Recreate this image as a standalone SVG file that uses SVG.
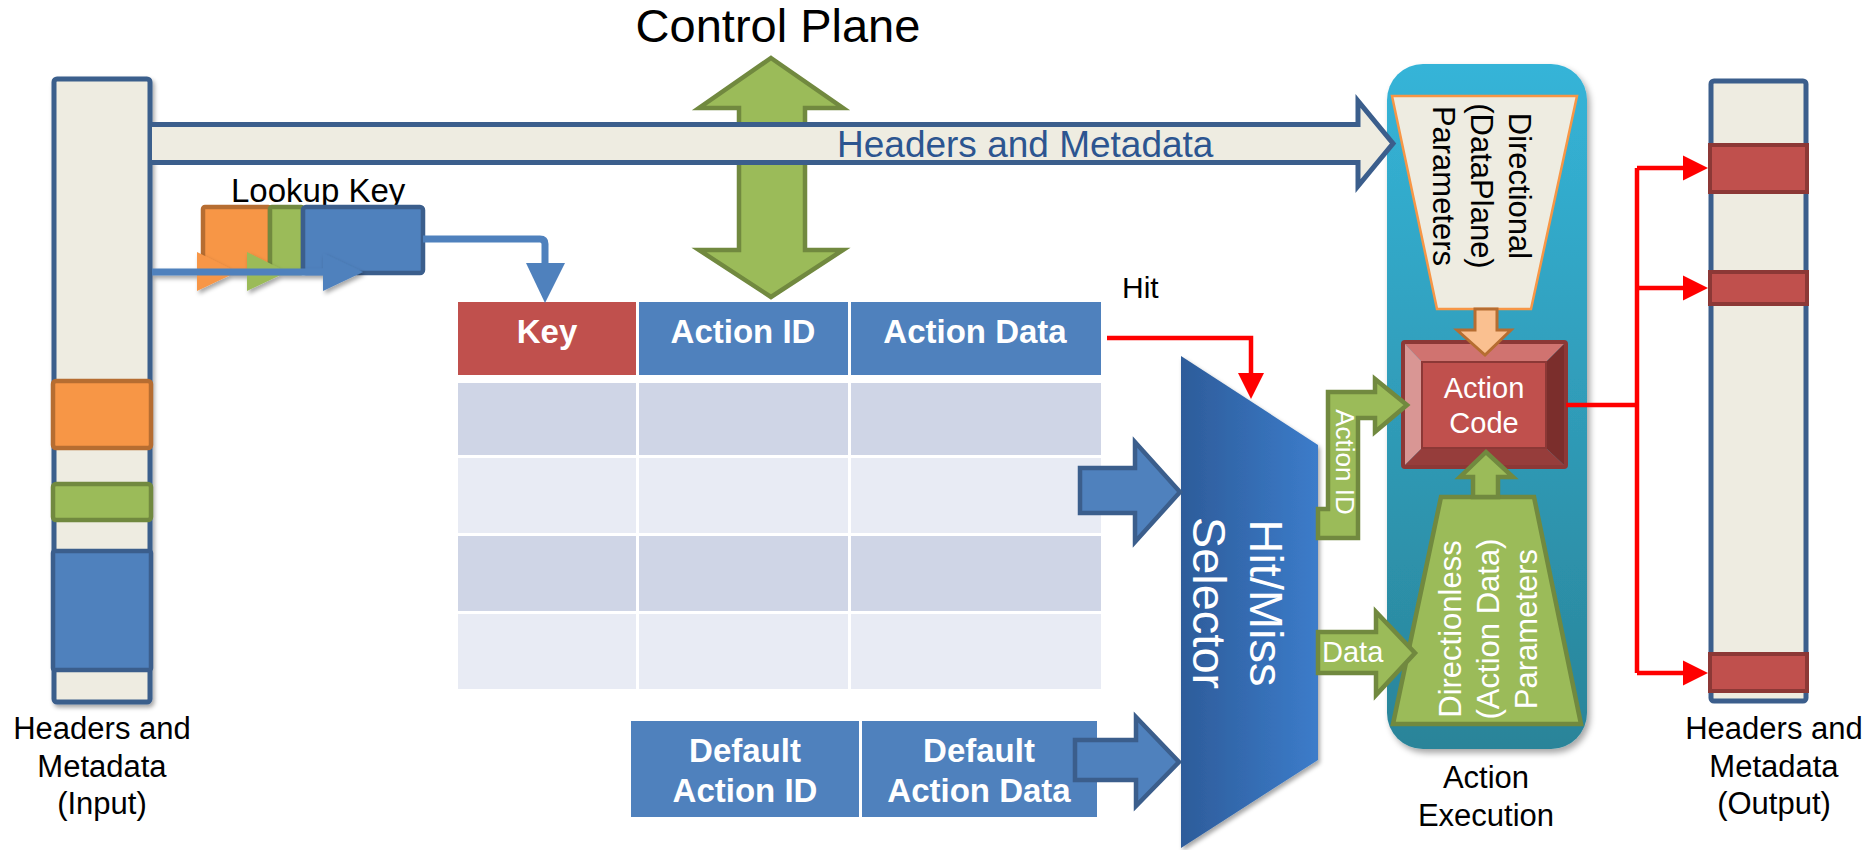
<svg xmlns="http://www.w3.org/2000/svg" width="1871" height="850" viewBox="0 0 1871 850">
<defs>
<style>
text{font-family:"Liberation Sans",Arial,sans-serif}
.lbl{font-size:31px;fill:#000}
.hdr{font-size:33px;font-weight:bold;fill:#fff}
.wt{fill:#fff}
.bs{stroke:#3B5E8C;stroke-width:5}
.cream{fill:#EEECE1}
.blue{fill:#4F81BD}
.grn{fill:#9BBB59;stroke:#71893F;stroke-width:4.5;stroke-linejoin:miter}
.red{fill:#C0504D;stroke:#8C3836;stroke-width:4}
.rl{fill:none;stroke:#FF0000;stroke-width:4.5}
.rh{fill:#FF0000}
.barr{fill:#4F81BD;stroke:#3B5E8C;stroke-width:4.5}
.row1{fill:#CFD5E6}
.row2{fill:#E8EBF4}
</style>
<linearGradient id="gExec" x1="0" y1="0" x2="0" y2="1">
<stop offset="0" stop-color="#35B4D8"/>
<stop offset="1" stop-color="#2A8499"/>
</linearGradient>
<linearGradient id="gSel" x1="0" y1="0" x2="1" y2="0">
<stop offset="0" stop-color="#2D5C9A"/>
<stop offset="1" stop-color="#3C7CCA"/>
</linearGradient>
<filter id="sh" x="-20%" y="-20%" width="140%" height="140%">
<feDropShadow dx="3" dy="4" stdDeviation="3" flood-color="#000" flood-opacity="0.35"/>
</filter>
<filter id="sh2" x="-20%" y="-40%" width="140%" height="180%">
<feDropShadow dx="2" dy="3" stdDeviation="2" flood-color="#000" flood-opacity="0.35"/>
</filter>
</defs>

<!-- Action Execution container -->
<g id="action-execution">
<rect x="1387" y="64" width="200" height="685" rx="36" fill="url(#gExec)" filter="url(#sh)"/>
<text class="lbl" x="1486" y="788" text-anchor="middle">Action</text>
<text class="lbl" x="1486" y="826" text-anchor="middle">Execution</text>
</g>

<!-- Input headers column -->
<g id="input-headers">
<rect x="54" y="79" width="96" height="623" rx="3" class="cream bs" filter="url(#sh2)"/>
<rect x="53" y="381" width="98" height="67" rx="3" fill="#F79646" stroke="#B66D31" stroke-width="4.5"/>
<rect x="53" y="484" width="98" height="36" rx="3" fill="#9BBB59" stroke="#71893F" stroke-width="4.5"/>
<rect x="53" y="551" width="98" height="119" rx="2" fill="#4F81BD" stroke="#3B5E8C" stroke-width="4.5"/>
<text class="lbl" x="102" y="739" text-anchor="middle">Headers and</text>
<text class="lbl" x="102" y="777" text-anchor="middle">Metadata</text>
<text class="lbl" x="102" y="814" text-anchor="middle">(Input)</text>
</g>

<!-- Control plane -->
<g id="control-plane">
<text x="778" y="42" text-anchor="middle" font-size="47" fill="#000">Control Plane</text>
<polygon class="grn" points="771,58 843,108 805,108 805,250 843,250 771,297 699,250 739,250 739,108 699,108"/>
</g>

<!-- Headers and Metadata band -->
<g id="headers-band">
<path d="M152,124.5 H1358 V101 L1393,143.5 L1358,186 V162.5 H152" class="cream" stroke="#3B5E8C" stroke-width="5" stroke-linejoin="miter"/>
<text x="837" y="157" font-size="37" fill="#2C5590">Headers and Metadata</text>
</g>

<!-- Lookup key -->
<g id="lookup-key">
<text x="231" y="202" font-size="33" fill="#000">Lookup Key</text>
<rect x="203" y="207" width="67" height="66" rx="2" fill="#F79646" stroke="#B66D31" stroke-width="4.5"/>
<rect x="270" y="207" width="33" height="66" rx="2" fill="#9BBB59" stroke="#71893F" stroke-width="4.5"/>
<rect x="303" y="207" width="120" height="66" rx="3" fill="#4F81BD" stroke="#3B5E8C" stroke-width="4.5"/>
<g filter="url(#sh2)">
<polygon points="197,252 237,272 197,291" fill="#F79646"/>
<polygon points="247,252 287,272 247,291" fill="#9BBB59"/>
<line x1="152" y1="272" x2="330" y2="272" stroke="#4F81BD" stroke-width="7"/>
<polygon points="323,253 363,272 323,291" fill="#4F81BD"/>
</g>
</g>

<!-- Match table -->
<g id="match-table">
<rect x="458" y="302" width="178" height="73" fill="#C0504D"/>
<rect x="639" y="302" width="209" height="73" class="blue"/>
<rect x="851" y="302" width="250" height="73" class="blue"/>
<text class="hdr" x="547" y="343" text-anchor="middle">Key</text>
<text class="hdr" x="743" y="343" text-anchor="middle">Action ID</text>
<text class="hdr" x="975" y="343" text-anchor="middle">Action Data</text>
<rect x="458" y="383" width="178" height="72" class="row1"/>
<rect x="639" y="383" width="209" height="72" class="row1"/>
<rect x="851" y="383" width="250" height="72" class="row1"/>
<rect x="458" y="458" width="178" height="75" class="row2"/>
<rect x="639" y="458" width="209" height="75" class="row2"/>
<rect x="851" y="458" width="250" height="75" class="row2"/>
<rect x="458" y="536" width="178" height="75" class="row1"/>
<rect x="639" y="536" width="209" height="75" class="row1"/>
<rect x="851" y="536" width="250" height="75" class="row1"/>
<rect x="458" y="614" width="178" height="75" class="row2"/>
<rect x="639" y="614" width="209" height="75" class="row2"/>
<rect x="851" y="614" width="250" height="75" class="row2"/>
</g>

<!-- Default action -->
<g id="default-action">
<rect x="631" y="721" width="228" height="96" class="blue"/>
<rect x="862" y="721" width="235" height="96" class="blue"/>
<text class="hdr" x="745" y="762" text-anchor="middle">Default</text>
<text class="hdr" x="745" y="802" text-anchor="middle">Action ID</text>
<text class="hdr" x="979" y="762" text-anchor="middle">Default</text>
<text class="hdr" x="979" y="802" text-anchor="middle">Action Data</text>
</g>

<!-- Hit/Miss selector -->
<g id="hit-miss-selector">
<polygon points="1181,356 1318,445 1318,760 1181,848" fill="url(#gSel)" filter="url(#sh2)"/>
<text class="wt" x="1250" y="603" font-size="47" text-anchor="middle" transform="rotate(90 1250 603)">Hit/Miss</text>
<text class="wt" x="1193" y="603" font-size="47" text-anchor="middle" transform="rotate(90 1193 603)">Selector</text>
</g>

<!-- Directional parameters -->
<g id="directional-params">
<polygon points="1392,96 1577,96 1531,309 1437,309" fill="#EEECE1" stroke="#F79646" stroke-width="2.5"/>
<text class="lbl" x="1509" y="186" text-anchor="middle" transform="rotate(90 1509 186)">Directional</text>
<text class="lbl" x="1471" y="186" text-anchor="middle" transform="rotate(90 1471 186)">(DataPlane)</text>
<text class="lbl" x="1433" y="186" text-anchor="middle" transform="rotate(90 1433 186)">Parameters</text>
</g>

<!-- Directionless parameters -->
<g id="directionless-params">
<polygon class="grn" points="1441,497 1534,497 1581,724 1393,724"/>
<text class="wt" font-size="31" x="1461" y="629" text-anchor="middle" transform="rotate(-90 1461 629)">Directionless</text>
<text class="wt" font-size="31" x="1499" y="629" text-anchor="middle" transform="rotate(-90 1499 629)">(Action Data)</text>
<text class="wt" font-size="31" x="1537" y="629" text-anchor="middle" transform="rotate(-90 1537 629)">Parameters</text>
</g>

<!-- Action code -->
<g id="action-code">
<polygon points="1403,342 1566,342 1546,362 1422,362" fill="#D07370"/>
<polygon points="1403,342 1422,362 1422,448 1403,467" fill="#D99694"/>
<polygon points="1566,342 1566,467 1546,448 1546,362" fill="#7B2E2C"/>
<polygon points="1403,467 1566,467 1546,448 1422,448" fill="#963D3B"/>
<rect x="1422" y="362" width="124" height="86" fill="#C0504D" stroke="#8C3836" stroke-width="2"/>
<rect x="1403" y="342" width="163" height="125" rx="2" fill="none" stroke="#8C3836" stroke-width="4"/>
<text class="wt" x="1484" y="398" font-size="29" text-anchor="middle">Action</text>
<text class="wt" x="1484" y="433" font-size="29" text-anchor="middle">Code</text>
</g>

<!-- Output headers column -->
<g id="output-headers">
<rect x="1711" y="81" width="95" height="620" rx="3" class="cream bs"/>
<rect x="1710" y="145" width="97" height="47" class="red"/>
<rect x="1710" y="272" width="97" height="32" class="red"/>
<rect x="1710" y="654" width="97" height="37" class="red"/>
<text class="lbl" x="1774" y="739" text-anchor="middle">Headers and</text>
<text class="lbl" x="1774" y="777" text-anchor="middle">Metadata</text>
<text class="lbl" x="1774" y="814" text-anchor="middle">(Output)</text>
</g>

<!-- Connectors -->
<g id="connectors">
<!-- lookup key to table -->
<path d="M423,239 H540 Q545,239 545,244 V266" fill="none" stroke="#4F81BD" stroke-width="7"/>
<polygon points="526,263 565,263 545,303" fill="#4F81BD"/>
<!-- table to selector -->
<polygon class="barr" points="1080,468 1135,468 1135,442 1180,492 1135,542 1135,513 1080,513"/>
<!-- default to selector -->
<polygon class="barr" points="1075,740 1136,740 1136,717 1179,762 1136,806 1136,780 1075,780"/>
<!-- hit -->
<text x="1122" y="298" font-size="30" fill="#000">Hit</text>
<path class="rl" d="M1107,338 H1251 V376"/>
<polygon class="rh" points="1238,373 1264,373 1251,399"/>
<!-- action id -->
<polygon class="grn" points="1318,509 1328,509 1328,392 1375,392 1375,379 1407,405 1375,432 1375,418 1358,418 1358,538 1318,538"/>
<text class="wt" x="1336" y="462" font-size="26" text-anchor="middle" transform="rotate(90 1336 462)">Action ID</text>
<!-- data -->
<polygon class="grn" points="1318,632 1376,632 1376,612 1415,653 1376,695 1376,673 1318,673"/>
<text class="wt" x="1322" y="662" font-size="29">Data</text>
<!-- directional to action code -->
<polygon points="1475,309 1497,309 1497,330 1511,330 1485,355 1457,330 1475,330" fill="#FAC090" stroke="#B66D31" stroke-width="3"/>
<!-- directionless to action code -->
<polygon class="grn" points="1473,497 1498,497 1498,477 1513,477 1486,452 1460,477 1473,477" stroke-width="3.5"/>
<!-- output -->
<path class="rl" d="M1566,405 H1637 M1637,168 V673 M1637,168 H1688 M1637,288 H1688 M1637,673 H1688"/>
<polygon class="rh" points="1683,155.5 1708,168 1683,180.5"/>
<polygon class="rh" points="1683,275.5 1708,288 1683,300.5"/>
<polygon class="rh" points="1683,660.5 1708,673 1683,685.5"/>
</g>
</svg>
